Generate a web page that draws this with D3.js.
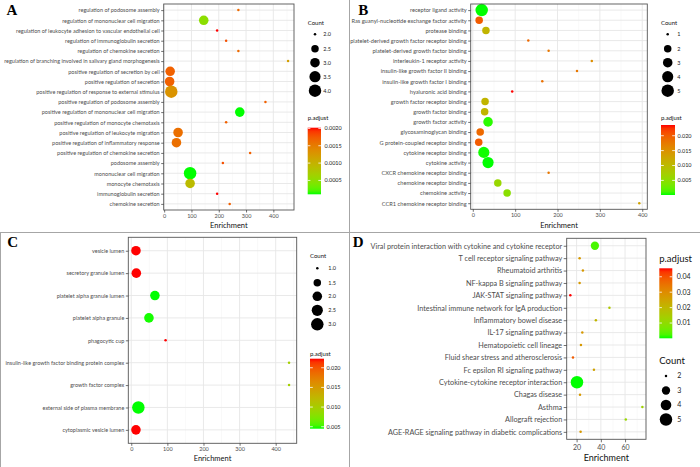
<!DOCTYPE html>
<html><head><meta charset="utf-8">
<script src="https://cdn.jsdelivr.net/npm/d3@7"></script>
<style>body{margin:0;background:#fff}svg{display:block}</style>
</head><body><svg id="c" width="700" height="467"></svg>
<script>
// ---------- Panel A (GO BP) ----------
const aTerms = ["regulation of podosome assembly","regulation of mononuclear cell migration","regulation of leukocyte adhesion to vascular endothelial cell","regulation of immunoglobulin secretion","regulation of chemokine secretion","regulation of branching involved in salivary gland morphogenesis","positive regulation of secretion by cell","positive regulation of secretion","positive regulation of response to external stimulus","positive regulation of podosome assembly","positive regulation of mononuclear cell migration","positive regulation of monocyte chemotaxis","positive regulation of leukocyte migration","positive regulation of inflammatory response","positive regulation of chemokine secretion","podosome assembly","mononuclear cell migration","monocyte chemotaxis","immunoglobulin secretion","chemokine secretion"];
const aEnrichment = [272,145,194,227,272,454,22,20,26,371,277,227,51,45,315,215,95,95,194,240];
const aCount = [2,3,2,2,2,2,3,3,4,2,3,2,3,3,2,2,4,3,2,2];
const aPadj = [0.00164,0.0005,0.00202,0.0018,0.00164,0.0012,0.0017,0.0017,0.0013,0.0017,0.0001,0.0017,0.0016,0.0016,0.0017,0.0018,0.0001,0.0009,0.00202,0.0017];
const aXTicks = [0,100,200,300,400];
const aCountBreaks = [2,2.5,3,3.5,4];
const aPadjBreaks = [0.0005,0.001,0.0015,0.002];

// ---------- Panel B (GO MF) ----------
const bTerms = ["receptor ligand activity","Ras guanyl-nucleotide exchange factor activity","protease binding","platelet-derived growth factor receptor binding","platelet-derived growth factor binding","interleukin-1 receptor activity","insulin-like growth factor II binding","insulin-like growth factor I binding","hyaluronic acid binding","growth factor receptor binding","growth factor binding","growth factor activity","glycosaminoglycan binding","G protein-coupled receptor binding","cytokine receptor binding","cytokine activity","CXCR chemokine receptor binding","chemokine receptor binding","chemokine activity","CCR1 chemokine receptor binding"];
const bEnrichment = [21,15,31,131,179,281,246,164,93,29,28,36,17.5,14,26,36,179,59,81,393];
const bCount = [5,2,2,1,1,1,1,1,1,2,2,3,2,2,4,4,1,2,2,1];
const bPadj = [0.0001,0.0201,0.0107,0.019,0.0177,0.0154,0.0177,0.0184,0.0236,0.0107,0.0107,0.0005,0.019,0.0201,0.0002,0.0001,0.0177,0.006,0.0048,0.013];
const bXTicks = [0,100,200,300,400];
const bCountBreaks = [1,2,3,4,5];
const bPadjBreaks = [0.005,0.01,0.015,0.02];

// ---------- Panel C (GO CC) ----------
const cTerms = ["vesicle lumen","secretory granule lumen","platelet alpha granule lumen","platelet alpha granule","phagocytic cup","insulin-like growth factor binding protein complex","growth factor complex","external side of plasma membrane","cytoplasmic vesicle lumen"];
const cEnrichment = [13,14,65.5,49,95,437,437,19.7,13];
const cCount = [2,2,2,2,1,1,1,3,2];
const cPadj = [0.0223,0.0223,0.0045,0.0046,0.0223,0.0098,0.0098,0.0045,0.0223];
const cXTicks = [0,100,200,300,400];
const cCountBreaks = [1,1.5,2,2.5,3];
const cPadjBreaks = [0.005,0.01,0.015,0.02];

// ---------- Panel D (KEGG) ----------
const dTerms = ["Viral protein interaction with cytokine and cytokine receptor","T cell receptor signaling pathway","Rheumatoid arthritis","NF-kappa B signaling pathway","JAK-STAT signaling pathway","Intestinal immune network for IgA production","Inflammatory bowel disease","IL-17 signaling pathway","Hematopoietic cell lineage","Fluid shear stress and atherosclerosis","Fc epsilon RI signaling pathway","Cytokine-cytokine receptor interaction","Chagas disease","Asthma","Allograft rejection","AGE-RAGE signaling pathway in diabetic complications"];
const dEnrichment = [35.1,22.5,25.2,22.5,14.8,47.1,35.9,24.7,23.6,17,34.3,20.3,22.8,74.3,60.6,23.3];
const dCount = [3,2,2,2,2,2,2,2,2,2,2,5,2,2,2,2];
const dPadj = [0.0024,0.0273,0.0273,0.0273,0.0455,0.016,0.0205,0.0273,0.0273,0.0387,0.025,0.0001,0.0273,0.0128,0.0115,0.0273];
const dXTicks = [20,40,60];
const dCountBreaks = [2,3,4,5];
const dPadjBreaks = [0.01,0.02,0.03,0.04];

const FONT = "Lato, 'Liberation Sans', sans-serif";
const svg = d3.select("#c");
svg.append("rect").attr("width",700).attr("height",467).attr("fill","#fff");

let gradId = 0;
function drawPanel(cfg){
  const g = svg.append("g");
  const P = cfg.plot;
  const ext = d3.extent(cfg.enrich), R = ext[1]-ext[0];
  const x = d3.scaleLinear().domain([ext[0]-0.05*R, ext[1]+0.05*R]).range([P.x0,P.x1]);
  const y = d3.scalePoint().domain(cfg.terms).range([P.y0,P.y1]).padding(0.6);
  const cExt = d3.extent(cfg.count);
  const sizeOf = c => 1 + 5*Math.sqrt((c-cExt[0])/(cExt[1]-cExt[0]));
  const rad = c => (sizeOf(c)+0.25)*cfg.rk;
  const pExt = d3.extent(cfg.padj);
  const color = d3.scaleLinear().domain(pExt).range(["#00ff00","#ff0000"]).interpolate(d3.interpolateLab);

  // panel background and grid
  g.append("rect").attr("x",P.x0).attr("y",P.y0).attr("width",P.x1-P.x0).attr("height",P.y1-P.y0).attr("fill","#fff");
  const step = cfg.xTicks[1]-cfg.xTicks[0];
  const dom = x.domain();
  const minor = [];
  for(let v = cfg.xTicks[0]-step/2; v <= dom[1]; v += step){ if(v>=dom[0]) minor.push(v); }
  g.selectAll(null).data(minor).join("line")
    .attr("x1",d=>x(d)).attr("x2",d=>x(d)).attr("y1",P.y0).attr("y2",P.y1)
    .attr("stroke","#f2f2f2").attr("stroke-width",0.5);
  g.selectAll(null).data(cfg.xTicks).join("line")
    .attr("x1",d=>x(d)).attr("x2",d=>x(d)).attr("y1",P.y0).attr("y2",P.y1)
    .attr("stroke","#e6e6e6").attr("stroke-width",0.9);
  g.selectAll(null).data(cfg.terms).join("line")
    .attr("x1",P.x0).attr("x2",P.x1).attr("y1",d=>y(d)).attr("y2",d=>y(d))
    .attr("stroke","#e6e6e6").attr("stroke-width",0.9);

  // points
  const idx = d3.range(cfg.terms.length);
  g.selectAll(null).data(idx).join("circle")
    .attr("cx",i=>x(cfg.enrich[i])).attr("cy",i=>y(cfg.terms[i]))
    .attr("r",i=>rad(cfg.count[i])).attr("fill",i=>color(cfg.padj[i]));

  g.append("rect").attr("x",P.x0).attr("y",P.y0).attr("width",P.x1-P.x0).attr("height",P.y1-P.y0)
    .attr("fill","none").attr("stroke","#555").attr("stroke-width",0.9);

  // axes
  const ya = g.append("g").attr("transform",`translate(${P.x0},0)`)
    .call(d3.axisLeft(y).tickSize(cfg.tick).tickPadding(cfg.gap));
  ya.select(".domain").remove();
  ya.selectAll("line").attr("stroke","#333").attr("stroke-width",0.7);
  const yt = ya.selectAll("text").attr("font-family",FONT).attr("font-size",cfg.axisFs).attr("fill","#4d4d4d");
  // fit label size to the reference's label width
  let mw = 0; yt.each(function(){ mw = Math.max(mw, this.getComputedTextLength()); });
  yt.attr("font-size", cfg.axisFs*cfg.labelW/mw);

  const xa = g.append("g").attr("transform",`translate(0,${P.y1})`)
    .call(d3.axisBottom(x).tickValues(cfg.xTicks).tickSize(cfg.tick).tickPadding(cfg.xgap));
  xa.select(".domain").remove();
  xa.selectAll("line").attr("stroke","#333").attr("stroke-width",0.7);
  xa.selectAll("text").attr("font-family",FONT).attr("font-size",cfg.xFs).attr("fill","#4d4d4d");

  g.append("text").attr("x",(P.x0+P.x1)/2).attr("y",cfg.titleY).attr("text-anchor","middle")
    .attr("font-family",FONT).attr("font-size",cfg.titleFs).attr("fill","#111").text("Enrichment");

  // panel letter
  g.append("text").attr("x",cfg.letter[0]).attr("y",cfg.letter[1]).text(cfg.letterText)
    .attr("font-family","'Liberation Serif', 'DejaVu Serif', serif").attr("font-weight","bold").attr("font-size",15).attr("fill","#000");

  // count legend
  const CL = cfg.countLeg;
  g.append("text").attr("x",CL.x).attr("y",CL.titleY).attr("dy","0.35em").text("Count")
    .attr("font-family",FONT).attr("font-size",cfg.legTitleFs).attr("fill","#111");
  g.selectAll(null).data(cfg.countBreaks).join("circle")
    .attr("cx",CL.dotX).attr("cy",(d,i)=>CL.ys[i]).attr("r",d=>rad(d)).attr("fill","#000");
  g.selectAll(null).data(cfg.countBreaks).join("text")
    .attr("x",CL.labX).attr("y",(d,i)=>CL.ys[i]).attr("dy","0.35em").text(d=>d3.format(cfg.countFmt)(d))
    .attr("font-family",FONT).attr("font-size",cfg.legFs).attr("fill","#222");

  // p.adjust colourbar
  const PL = cfg.padjLeg;
  g.append("text").attr("x",PL.x0).attr("y",PL.titleY).attr("dy","0.35em").text("p.adjust")
    .attr("font-family",FONT).attr("font-size",cfg.legTitleFs).attr("fill","#111");
  const id = "grad"+(gradId++);
  const grad = svg.append("defs").append("linearGradient").attr("id",id)
    .attr("x1",0).attr("y1",1).attr("x2",0).attr("y2",0);
  d3.range(0,1.0001,0.05).forEach(t=>{
    grad.append("stop").attr("offset",t).attr("stop-color",color(pExt[0]+t*(pExt[1]-pExt[0])));
  });
  g.append("rect").attr("x",PL.x0).attr("y",PL.y0).attr("width",PL.x1-PL.x0).attr("height",PL.y1-PL.y0)
    .attr("fill",`url(#${id})`);
  const by = d3.scaleLinear().domain(pExt).range([PL.y1,PL.y0]);
  const tl = (PL.x1-PL.x0)/5;
  cfg.padjBreaks.forEach(v=>{
    g.append("line").attr("x1",PL.x0).attr("x2",PL.x0+tl).attr("y1",by(v)).attr("y2",by(v)).attr("stroke","#fff").attr("stroke-width",0.8);
    g.append("line").attr("x1",PL.x1-tl).attr("x2",PL.x1).attr("y1",by(v)).attr("y2",by(v)).attr("stroke","#fff").attr("stroke-width",0.8);
    g.append("text").attr("x",PL.labX).attr("y",by(v)).attr("dy","0.35em").text(d3.format(cfg.padjFmt)(v))
      .attr("font-family",FONT).attr("font-size",cfg.legFs).attr("fill","#222");
  });
}

drawPanel({terms:aTerms, enrich:aEnrichment, count:aCount, padj:aPadj, xTicks:aXTicks,
  countBreaks:aCountBreaks, padjBreaks:aPadjBreaks, countFmt:".1f", padjFmt:".4f",
  plot:{x0:163.7,x1:294,y0:4,y1:210}, rk:1.0, tick:2.5, gap:1.5, xgap:1.5,
  axisFs:5.5, labelW:156, xFs:5.5, titleFs:7.5, titleY:227.6, legTitleFs:6, legFs:5.5,
  letter:[6.5,15], letterText:"A",
  countLeg:{x:307.7,titleY:22.7,dotX:315,labX:323.3,ys:[34.3,48.7,62.7,76.7,90.7]},
  padjLeg:{x0:307.7,x1:321,y0:127.7,y1:194.3,titleY:118.3,labX:324.5}});

drawPanel({terms:bTerms, enrich:bEnrichment, count:bCount, padj:bPadj, xTicks:bXTicks,
  countBreaks:bCountBreaks, padjBreaks:bPadjBreaks, countFmt:"d", padjFmt:".3f",
  plot:{x0:470.7,x1:647.3,y0:4,y1:209.3}, rk:1.0, tick:2.5, gap:1.5, xgap:1.5,
  axisFs:5.5, labelW:117, xFs:5.5, titleFs:7.5, titleY:227.6, legTitleFs:6, legFs:5.5,
  letter:[358.3,15], letterText:"B",
  countLeg:{x:661,titleY:22.7,dotX:667.7,labX:677.3,ys:[34.3,48.7,62.7,76.7,90.7]},
  padjLeg:{x0:661,x1:675,y0:125,y1:195,titleY:118.3,labX:677.5}});

drawPanel({terms:cTerms, enrich:cEnrichment, count:cCount, padj:cPadj, xTicks:cXTicks,
  countBreaks:cCountBreaks, padjBreaks:cPadjBreaks, countFmt:".1f", padjFmt:".3f",
  plot:{x0:128.3,x1:296.7,y0:237.3,y1:443.3}, rk:1.0, tick:2.5, gap:1.5, xgap:1.5,
  axisFs:5.5, labelW:119, xFs:5.5, titleFs:7.5, titleY:461.3, legTitleFs:6, legFs:5.5,
  letter:[7.3,246.7], letterText:"C",
  countLeg:{x:310,titleY:256,dotX:317.3,labX:328.3,ys:[268.3,282.7,296.3,310.3,324.3]},
  padjLeg:{x0:310,x1:324,y0:358.7,y1:428.7,titleY:354,labX:326.5}});

drawPanel({terms:dTerms, enrich:dEnrichment, count:dCount, padj:dPadj, xTicks:dXTicks,
  countBreaks:dCountBreaks, padjBreaks:dPadjBreaks, countFmt:"d", padjFmt:".2f",
  plot:{x0:566.7,x1:646,y0:238.3,y1:439.3}, rk:1.0, tick:3, gap:1.5, xgap:2.5,
  axisFs:7, labelW:192, xFs:7, titleFs:9, titleY:460.5, legTitleFs:9.5, legFs:7,
  letter:[352.7,247.3], letterText:"D",
  countLeg:{x:659.3,titleY:360.7,dotX:666,labX:677.3,ys:[376,390.5,405,419.5]},
  padjLeg:{x0:659.3,x1:672.3,y0:268.3,y1:338.3,titleY:258.3,labX:676.7}});

// panel frames
const frame = svg.append("g").attr("stroke","#a6a6a6").attr("stroke-width",1);
frame.append("line").attr("x1",349.5).attr("x2",349.5).attr("y1",0).attr("y2",467);
frame.append("line").attr("x1",0).attr("x2",700).attr("y1",232.5).attr("y2",232.5);
frame.append("line").attr("x1",0.5).attr("x2",0.5).attr("y1",232.5).attr("y2",467);
</script></body></html>
